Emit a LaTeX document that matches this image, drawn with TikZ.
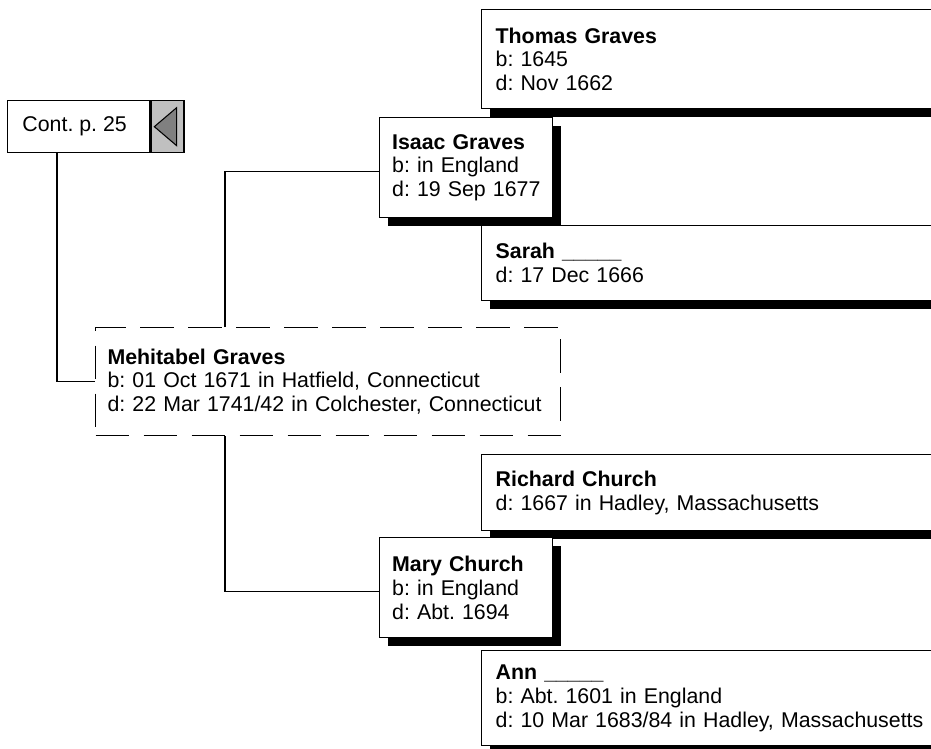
\documentclass[tikz,border=0pt]{standalone}
\usepackage{fontspec}
\setmainfont{Liberation Sans}
\usetikzlibrary{shadows}
\definecolor{lightgr}{HTML}{C0C0C0}
\definecolor{darkgr}{HTML}{808080}
\begin{document}
\begin{tikzpicture}[x=0.75pt,y=-0.75pt,
  every node/.style={font=\fontsize{16}{17.8}\selectfont\frenchspacing},
  person/.style={draw, line width=1pt, fill=white, anchor=north west,
    inner xsep=10.5pt, inner ysep=0pt, align=left},
  wide/.style={minimum width=348pt, text width=327pt},
  narrow/.style={minimum width=129.75pt, text width=111pt, inner xsep=9.375pt},
  shade/.style={drop shadow={shadow xshift=6pt, shadow yshift=-6pt, opacity=1, fill=black}},
  conn/.style={line width=1.1pt},
]
\useasboundingbox (0,0) rectangle (931,749);
\clip (0,0) rectangle (931,749);

% continuation box
\node[draw, line width=1pt, fill=white, anchor=north west, minimum width=106.5pt,
  minimum height=39pt, inner sep=0pt] (cont) at (7,100) {\hspace*{-6pt}Cont. p. 25};
\node[draw, line width=1pt, fill=lightgr, anchor=north west, minimum width=24.75pt,
  minimum height=39pt, inner sep=0pt] (arrowbox) at (cont.north east) {};
\filldraw[fill=darkgr, draw=black, line width=0.8pt]
  ([xshift=3pt]arrowbox.west) -- ([xshift=-6pt,yshift=14.25pt]arrowbox.east)
  -- ([xshift=-6pt,yshift=-14.25pt]arrowbox.east) -- cycle;

% ancestors (upper)
\node[person, wide, shade, minimum height=74.25pt] (thomas) at (481,9)
  {\textbf{Thomas Graves}\\b: 1645\\d: Nov 1662};
\node[person, wide, shade, minimum height=56.25pt] (sarah) at (481,225)
  {\textbf{Sarah \_\_\_\_\_}\\d: 17 Dec 1666};
\node[person, narrow, shade, minimum height=75pt] (isaac) at (379,117)
  {\mbox{\textbf{Isaac Graves}}\\\mbox{b: in England}\\\mbox{d: 19 Sep 1677}};

% ancestors (lower)
\node[person, wide, shade, minimum height=57pt] (richard) at (481,454)
  {\textbf{Richard Church}\\d: 1667 in Hadley, Massachusetts};
\node[person, wide, shade, minimum height=71.25pt] (ann) at (481,650)
  {\textbf{Ann \_\_\_\_\_}\\b: Abt. 1601 in England\\d: 10 Mar 1683/84 in Hadley, Massachusetts};
\node[person, narrow, shade, minimum height=75pt] (mary) at (379,537)
  {\mbox{\textbf{Mary Church}}\\\mbox{b: in England}\\\mbox{d: Abt. 1694}};

% main person
\node[person, draw=black, line width=0.8pt, dash pattern=on 25pt off 11pt,
  minimum width=348.75pt, text width=330.75pt, inner xsep=9pt, minimum height=81pt] (mehi) at (95,327)
  {\textbf{Mehitabel Graves}\\b: 01 Oct 1671 in Hatfield, Connecticut\\d: 22 Mar 1741/42 in Colchester, Connecticut};

% connectors
\draw[conn] ([xshift=37.5pt]cont.south west) |- (mehi.west);
\draw[conn] ([xshift=97.5pt]mehi.north west) |- ([yshift=-3pt]isaac.west);
\draw[conn] ([xshift=97.5pt]mehi.south west) |- ([yshift=-3pt]mary.west);
\end{tikzpicture}
\end{document}
